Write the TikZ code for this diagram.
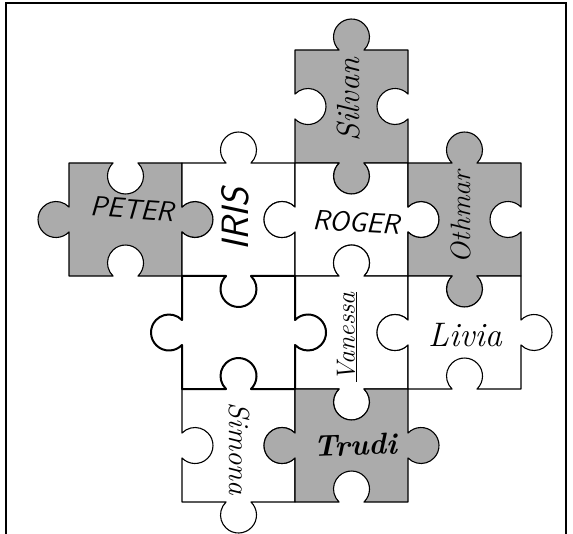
\documentclass[tikz,border=0pt]{standalone}
\usetikzlibrary{positioning}

\colorlet{halftone}{black!33}
% one side of a piece: straight, knob out (or hole in), straight
\newcommand{\knob}[1]{-- ++(#1:44.05) arc[start angle=#1+226.2, end angle=#1-46.2, radius=18] -- ++(#1:44.05)}
\newcommand{\hole}[1]{-- ++(#1:44.05) arc[start angle=#1+133.8, end angle=#1+406.2, radius=18] -- ++(#1:44.05)}

\begin{document}
\begin{tikzpicture}[
    x=1pt, y=1pt,
    piece/.style={draw, line width=1.1pt, line join=round, fill=#1},
    piece/.default=white,
    caps/.style={font=\sffamily\slshape\fontsize{#1}{#1}\selectfont, inner sep=1pt},
    caps/.default=28,
    script/.style={font=\itshape\fontsize{#1}{#1}\selectfont, inner sep=1pt},
    script/.default=28,
]
  \clip (0,0) rectangle (573,533);

  % ---------------- frame ----------------
  \draw[line width=1.5pt] (6,-5) -- (6,530) -- (566,530) -- (566,-5);

  % ---------------- top row ----------------
  \draw[piece=halftone] (295,483) \knob{0} \hole{-90} \knob{180} \hole{90} -- cycle;

  % ---------------- second row ----------------
  \draw[piece=halftone] (69,370)  \hole{0} \knob{-90} \hole{180} \knob{90} -- cycle;
  \draw[piece]          (182,370) \knob{0} \hole{-90} \knob{180} \hole{90} -- cycle;
  \draw[piece]          (295,370) \hole{0} \knob{-90} \hole{180} \knob{90} -- cycle;
  \draw[piece=halftone] (408,370) \knob{0} \hole{-90} \knob{180} \hole{90} -- cycle;

  % ---------------- third row ----------------
  \draw[piece]          (295,257) \knob{0} \hole{-90} \knob{180} \hole{90} -- cycle;
  \draw[piece]          (408,257) \hole{0} \knob{-90} \hole{180} \knob{90} -- cycle;

  % ---------------- bottom row ----------------
  \draw[piece]          (182,144) \knob{0} \hole{-90} \knob{180} \hole{90} -- cycle;
  \draw[piece=halftone] (295,144) \hole{0} \knob{-90} \hole{180} \knob{90} -- cycle;

  % the empty piece, drawn heavier
  \draw[piece, line width=2pt] (182,257) \hole{0} \knob{-90} \hole{180} \knob{90} -- cycle;

  % ---------------- names ----------------
  \node[caps, rotate=-4] (peter) at (132,324) {PETER};
  \node[caps=38, rotate=90] (iris) at (235,314) {IRIS};
  \node[caps=28, rotate=-3] (roger) at (356,311) {ROGER};
  \node[script=32, rotate=90] (silvan) at (349,433) {Silvan};
  \node[script=28, rotate=90] (othmar) at (461,316) {Othmar};
  \node[script=26, rotate=90] (vanessa) at (347,196) {\underline{Vanessa}};
  \node[script=34] (livia) at (465,198) {Livia};
  \node[script=29, rotate=-90] (simona) at (239,84) {Simona};
  \node[script, font=\bfseries\itshape\fontsize{30}{30}\selectfont, rotate=2] (trudi) at (355,88) {Trudi};
\end{tikzpicture}
\end{document}
